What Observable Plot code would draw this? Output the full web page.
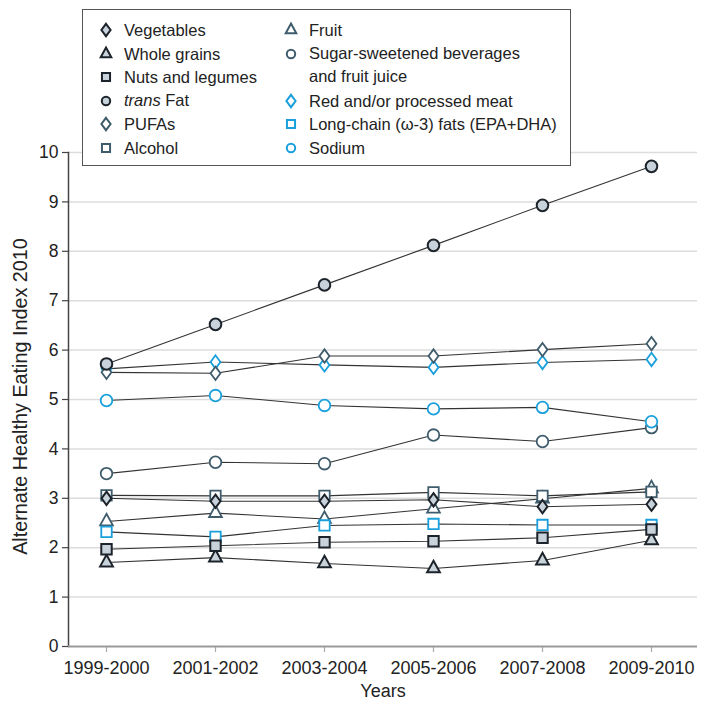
<!DOCTYPE html>
<html>
<head>
<meta charset="utf-8">
<script src="https://cdn.jsdelivr.net/npm/d3@7"></script>
<script src="https://cdn.jsdelivr.net/npm/@observablehq/plot@0.6"></script>
<style>
  html, body { margin: 0; padding: 0; background: #fff; }
  #wrap { position: relative; width: 706px; height: 710px; font-family: "Liberation Sans", Arial, sans-serif; }
  #legend { position: absolute; left: 82px; top: 9px; width: 487px; height: 155px; border: 1.5px solid #555; background: #fff; }
  .li { position: absolute; font-size: 16.5px; color: #222; white-space: nowrap; line-height: 20px; }
  .ls { position: absolute; }
</style>
</head>
<body>
<div id="wrap"><div id="chart"></div><div id="legend"></div></div>
<script>
const years = ["1999-2000", "2001-2002", "2003-2004", "2005-2006", "2007-2008", "2009-2010"];
const yTicks = [0, 1, 2, 3, 4, 5, 6, 7, 8, 9, 10];

const vegetables  = [3.00, 2.94, 2.94, 2.97, 2.83, 2.88];
const wholeGrains = [1.70, 1.80, 1.68, 1.58, 1.74, 2.15];
const nuts        = [1.97, 2.04, 2.11, 2.13, 2.20, 2.37];
const transFat    = [5.72, 6.52, 7.32, 8.12, 8.93, 9.72];
const pufas       = [5.55, 5.53, 5.88, 5.88, 6.01, 6.13];
const alcohol     = [3.06, 3.05, 3.05, 3.12, 3.05, 3.13];
const fruit       = [2.53, 2.70, 2.58, 2.79, 2.99, 3.20];
const ssb         = [3.50, 3.73, 3.70, 4.28, 4.15, 4.43];
const redMeat     = [5.62, 5.76, 5.70, 5.65, 5.75, 5.81];
const longChain   = [2.32, 2.22, 2.45, 2.48, 2.46, 2.46];
const sodium      = [4.98, 5.08, 4.88, 4.81, 4.84, 4.55];

// symbol shapes
const shape = {
  circle: (c, r) => { c.moveTo(r, 0); c.arc(0, 0, r, 0, 2 * Math.PI); },
  square: (c, r) => { const h = 0.9 * r; c.rect(-h, -h, 2 * h, 2 * h); },
  diamond: (c, r) => { c.moveTo(0, -1.15 * r); c.lineTo(0.85 * r, 0); c.lineTo(0, 1.15 * r); c.lineTo(-0.85 * r, 0); c.closePath(); },
  triangle: (c, r) => { const w = 1.1 * r, H = 2 * r; c.moveTo(0, -2 * H / 3); c.lineTo(w, H / 3); c.lineTo(-w, H / 3); c.closePath(); }
};
const sym = (name) => ({ draw(ctx, size) { shape[name](ctx, Math.sqrt(size / Math.PI)); } });

const dark  = { stroke: "#1d232a", fill: "#c8d2db", strokeWidth: 2 };
const slate = { stroke: "#3f5c6c", fill: "#ffffff", strokeWidth: 1.8 };
const blue  = { stroke: "#19a0dc", fill: "#ffffff", strokeWidth: 1.8 };

const series = [
  { name: "Vegetables", values: vegetables, shape: "diamond", style: dark },
  { name: "Whole grains", values: wholeGrains, shape: "triangle", style: dark },
  { name: "Nuts and legumes", values: nuts, shape: "square", style: dark },
  { name: "trans Fat", values: transFat, shape: "circle", style: dark },
  { name: "PUFAs", values: pufas, shape: "diamond", style: slate },
  { name: "Alcohol", values: alcohol, shape: "square", style: slate },
  { name: "Fruit", values: fruit, shape: "triangle", style: slate },
  { name: "Sugar-sweetened beverages and fruit juice", values: ssb, shape: "circle", style: slate },
  { name: "Red and/or processed meat", values: redMeat, shape: "diamond", style: blue },
  { name: "Long-chain (ω-3) fats (EPA+DHA)", values: longChain, shape: "square", style: blue },
  { name: "Sodium", values: sodium, shape: "circle", style: blue }
];
const byName = Object.fromEntries(series.map(s => [s.name, s]));
const drawOrder = ["Fruit", "Long-chain (ω-3) fats (EPA+DHA)", "Whole grains", "Nuts and legumes", "Alcohol", "Vegetables",
  "Red and/or processed meat", "PUFAs", "Sugar-sweetened beverages and fruit juice", "Sodium", "trans Fat"];

const rows = series.flatMap(s => s.values.map((v, i) => ({ name: s.name, year: years[i], value: v })));

const chart = Plot.plot({
  width: 706,
  height: 710,
  marginLeft: 68,
  marginRight: 9,
  marginTop: 152,
  marginBottom: 64,
  style: { fontFamily: "Liberation Sans, Arial, sans-serif", color: "#222", background: "#fff" },
  x: { type: "point", domain: years, range: [104, 652], padding: 0, axis: null },
  y: { domain: [0, 10], axis: null },
  marks: [
    Plot.gridY(yTicks.slice(1), { stroke: "#dcdcdc", strokeOpacity: 1, strokeWidth: 1.5 }),
    Plot.axisY(yTicks, { tickSize: 6, tickPadding: 4, fontSize: 17.5, label: null, stroke: "#444", strokeWidth: 1.2 }),
    Plot.axisX(years, { tickSize: 6, tickPadding: 9, fontSize: 18, label: null, stroke: "#aaa", strokeWidth: 1.2 }),
    Plot.frame({ anchor: "left", stroke: "#444", strokeWidth: 1.5 }),
    Plot.ruleY([0], { stroke: "#9a9a9a", strokeWidth: 2 }),
    Plot.text(["Alternate Healthy Eating Index 2010"], { frameAnchor: "left", textAnchor: "middle", rotate: -90, dx: -48, dy: -3, fontSize: 19.8, fill: "#222" }),
    Plot.text(["Years"], { frameAnchor: "bottom", dy: 50, fontSize: 18, fill: "#222" }),
    Plot.line(rows, { x: "year", y: "value", z: "name", stroke: "#333", strokeWidth: 1.1 }),
    ...drawOrder.map(n => {
      const s = byName[n];
      return Plot.dot(rows.filter(d => d.name === n), { x: "year", y: "value", r: 5.8, symbol: sym(s.shape), ...s.style });
    })
  ]
});
document.getElementById("chart").appendChild(chart);

// legend
const legend = document.getElementById("legend");
const legendItems = [
  { name: "Vegetables", col: 0, row: 0 },
  { name: "Whole grains", col: 0, row: 1 },
  { name: "Nuts and legumes", col: 0, row: 2 },
  { name: "trans Fat", col: 0, row: 3, html: "<i>trans</i> Fat" },
  { name: "PUFAs", col: 0, row: 4 },
  { name: "Alcohol", col: 0, row: 5 },
  { name: "Fruit", col: 1, row: 0 },
  { name: "Sugar-sweetened beverages and fruit juice", col: 1, row: 1, html: "Sugar-sweetened beverages<br>and fruit juice" },
  { name: "Red and/or processed meat", col: 1, row: 3 },
  { name: "Long-chain (ω-3) fats (EPA+DHA)", col: 1, row: 4 },
  { name: "Sodium", col: 1, row: 5 }
];
const legendR = { circle: 4.2, square: 4.5, diamond: 5.4, triangle: 4.8 };
const rowY = r => 20 + r * 23.6;
const symX = [23, 208], txtX = [41, 226];
for (const it of legendItems) {
  const s = byName[it.name];
  const cy = rowY(it.row);
  const svg = d3.create("svg").attr("class", "ls").attr("width", 20).attr("height", 20)
    .style("left", (symX[it.col] - 10) + "px").style("top", (cy - 10) + "px");
  const p = d3.path();
  shape[s.shape](p, legendR[s.shape]);
  svg.append("path").attr("d", p.toString()).attr("transform", "translate(10,10)")
    .attr("fill", s.style.fill).attr("stroke", s.style.stroke).attr("stroke-width", 2);
  legend.appendChild(svg.node());
  const t = document.createElement("div");
  t.className = "li";
  t.style.left = txtX[it.col] + "px";
  t.style.top = (cy - 10) + "px";
  if (it.html) { t.innerHTML = it.html; t.style.lineHeight = "23.6px"; t.style.top = (cy - 11.8) + "px"; }
  else t.textContent = it.name;
  legend.appendChild(t);
}
</script>
</body>
</html>
